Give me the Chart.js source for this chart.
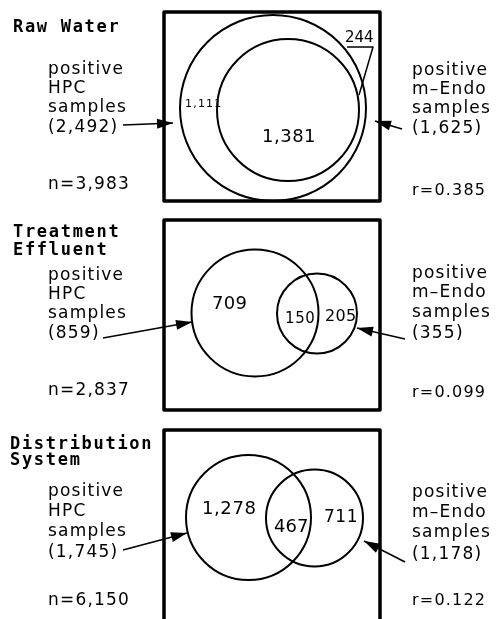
<!DOCTYPE html>
<html>
<head>
<meta charset="utf-8">
<script src="https://cdn.jsdelivr.net/npm/chart.js@4/dist/chart.umd.min.js"></script>
<style>
  html, body { margin: 0; padding: 0; background: #fff; }
  #wrap { width: 498px; height: 619px; position: relative; }
</style>
</head>
<body>
<div id="wrap"><canvas id="c" width="498" height="619"></canvas></div>
<script>
// ---------------- DATA ----------------
const panelTitles = [["Raw Water"], ["Treatment", "Effluent"], ["Distribution", "System"]];
const hpcTotal  = [2492, 859, 1745];   // positive HPC samples
const endoTotal = [1625, 355, 1178];   // positive m-Endo samples
const hpcOnly   = [1111, 709, 1278];
const bothPos   = [1381, 150, 467];
const endoOnly  = [244, 205, 711];
const nSamples  = [3983, 2837, 6150];
const rValues   = ["0.385", "0.099", "0.122"];

// ---------------- LAYOUT (axis units, 1 unit = 1 px) ----------------
const geom = [
  { box: [164, 12, 380, 201], hpcC: [273, 108], hpcR: 93, endoC: [288, 110], endoR: 71,
    titleY: [32], leftY: [74, 93, 112, 132], nY: 189, rightY: [75, 94, 113, 133], rY: 195,
    lblHpc: [185, 107, 11, 1.2], lblBoth: [262, 142, 18, 0.5], lblEndo: [345, 42, 15, 0],
    arrL: [[123, 125], [173, 123]], arrR: [[402, 129], [375, 121]],
    leader: [[347, 47], [373, 47], [359, 95]] },
  { box: [164, 220, 380, 410], hpcC: [255, 313], hpcR: 63.5, endoC: [317, 313.5], endoR: 40,
    titleY: [237, 255], leftY: [280, 299, 318, 338], nY: 395, rightY: [278, 297, 317, 338], rY: 397,
    lblHpc: [212, 309, 18, 0.3], lblBoth: [285, 323, 15, 0.6], lblEndo: [325, 321, 16, 0.3],
    arrL: [[103, 338], [192, 322]], arrR: [[405, 339], [357, 328]], leader: null },
  { box: [164, 430, 380, 660], hpcC: [248.5, 517.5], hpcR: 62.5, endoC: [314.5, 518], endoR: 48.5,
    titleY: [449, 465], leftY: [496, 516, 536, 557], nY: 605, rightY: [497, 517, 537, 559], rY: 605,
    lblHpc: [202, 514, 18, 0.6], lblBoth: [274, 532, 18, 0], lblEndo: [324, 522, 17, 0.5],
    arrL: [[123, 550], [187, 533]], arrR: [[405, 562], [364, 541]], leader: null }
];

const fmt = v => v.toLocaleString('en-US');

const hpcPoints  = geom.map((g, i) => ({ x: g.hpcC[0],  y: g.hpcC[1],  r: g.hpcR,  v: hpcTotal[i] }));
const endoPoints = geom.map((g, i) => ({ x: g.endoC[0], y: g.endoC[1], r: g.endoR, v: endoTotal[i] }));

const SANS = '"DejaVu Sans", sans-serif';
const MONO = '"DejaVu Sans Mono", monospace';

const annot = {
  id: 'annot',
  afterDatasetsDraw(chart) {
    const ctx = chart.ctx;
    const xs = chart.scales.x, ys = chart.scales.y;
    const X = v => xs.getPixelForValue(v), Y = v => ys.getPixelForValue(v);
    ctx.save();
    ctx.fillStyle = '#000';
    ctx.strokeStyle = '#000';
    ctx.textBaseline = 'alphabetic';
    ctx.textAlign = 'left';

    const text = (s, x, y, size, spacing, font) => {
      ctx.font = (font || ('' + size + 'px ' + SANS));
      ctx.letterSpacing = (spacing || 0) + 'px';
      ctx.fillText(s, X(x), Y(y));
    };
    const arrow = (from, to) => {
      const x1 = X(from[0]), y1 = Y(from[1]), x2 = X(to[0]), y2 = Y(to[1]);
      ctx.lineWidth = 1.6;
      ctx.beginPath(); ctx.moveTo(x1, y1); ctx.lineTo(x2, y2); ctx.stroke();
      const a = Math.atan2(y2 - y1, x2 - x1), L = 16, W = 5;
      ctx.beginPath();
      ctx.moveTo(x2, y2);
      ctx.lineTo(x2 - L * Math.cos(a) + W * Math.sin(a), y2 - L * Math.sin(a) - W * Math.cos(a));
      ctx.lineTo(x2 - L * Math.cos(a) - W * Math.sin(a), y2 - L * Math.sin(a) + W * Math.cos(a));
      ctx.closePath(); ctx.fill();
    };

    geom.forEach((g, i) => {
      // panel frame
      ctx.lineWidth = 3.5;
      ctx.lineJoin = 'round';
      ctx.strokeRect(X(g.box[0]), Y(g.box[1]), X(g.box[2]) - X(g.box[0]), Y(g.box[3]) - Y(g.box[1]));

      // titles
      panelTitles[i].forEach((t, k) => {
        text(t, i === 2 ? 10 : 13, g.titleY[k], 17, 1.7, 'bold 17px ' + MONO);
      });

      // left labels
      const L = ['positive', 'HPC', 'samples', '(' + fmt(hpcTotal[i]) + ')'];
      L.forEach((s, k) => text(s, 48, g.leftY[k], 17, 1.2));
      text('n=' + fmt(nSamples[i]), 48, g.nY, 17, 1.2);

      // right labels
      const R = ['positive', 'm\u2013Endo', 'samples', '(' + fmt(endoTotal[i]) + ')'];
      R.forEach((s, k) => text(s, 412, g.rightY[k], 17, 1.2));
      text('r=' + rValues[i], 412, g.rY, 16, 1.2);

      // region counts
      text(fmt(hpcOnly[i]), g.lblHpc[0], g.lblHpc[1], g.lblHpc[2], g.lblHpc[3]);
      text(fmt(bothPos[i]), g.lblBoth[0], g.lblBoth[1], g.lblBoth[2], g.lblBoth[3]);
      text(fmt(endoOnly[i]), g.lblEndo[0], g.lblEndo[1], g.lblEndo[2], g.lblEndo[3]);

      // arrows
      arrow(g.arrL[0], g.arrL[1]);
      arrow(g.arrR[0], g.arrR[1]);

      // leader line
      if (g.leader) {
        ctx.lineWidth = 1.5;
        ctx.beginPath();
        ctx.moveTo(X(g.leader[0][0]), Y(g.leader[0][1]));
        g.leader.slice(1).forEach(p => ctx.lineTo(X(p[0]), Y(p[1])));
        ctx.stroke();
      }
    });
    ctx.restore();
  }
};

new Chart(document.getElementById('c'), {
  type: 'bubble',
  data: {
    datasets: [
      { label: 'positive HPC samples', data: hpcPoints, backgroundColor: 'rgba(0,0,0,0)',
        borderColor: '#000', borderWidth: 2, hoverBorderWidth: 2, clip: false },
      { label: 'positive m-Endo samples', data: endoPoints, backgroundColor: 'rgba(0,0,0,0)',
        borderColor: '#000', borderWidth: 2, hoverBorderWidth: 2, clip: false }
    ]
  },
  options: {
    responsive: false,
    animation: false,
    events: [],
    layout: { padding: 0, autoPadding: false },
    plugins: { legend: { display: false }, tooltip: { enabled: false }, title: { display: false } },
    scales: {
      x: { type: 'linear', min: 0, max: 498, display: false },
      y: { type: 'linear', min: 0, max: 619, reverse: true, display: false }
    }
  },
  plugins: [annot]
});
</script>
</body>
</html>
